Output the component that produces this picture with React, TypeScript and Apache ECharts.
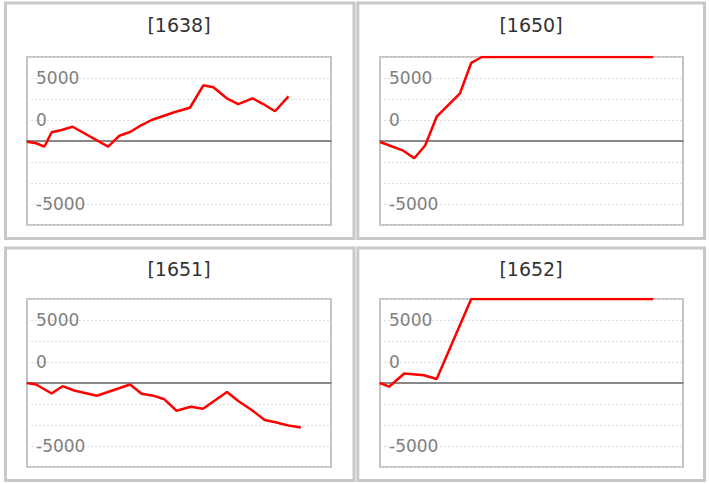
import React, { useEffect, useRef } from "react";
import * as echarts from "echarts";

const panelTitles = ["[1638]", "[1650]", "[1651]", "[1652]"];

const xs1638 = [0, 3.0, 5.7, 8.1, 11.4, 15.0, 26.7, 30.4, 33.9, 37.7, 41.0, 44.8, 48.7, 53.6, 58.0, 61.3, 65.7, 69.5, 74.2, 77.7, 81.6, 86.0];
const vals1638 = [-100, -270, -680, 1040, 1310, 1700, -680, 630, 1070, 1900, 2500, 2980, 3450, 3960, 6630, 6390, 5080, 4400, 5080, 4400, 3540, 5320];

const xs1650 = [0, 7.7, 11.3, 14.9, 18.7, 26.4, 30.1, 33.6, 90.2];
const vals1650 = [-120, -1150, -2060, -540, 2890, 5680, 9290, 10000, 10000];

const xs1651 = [0, 3.0, 8.1, 11.7, 15.5, 23.0, 33.9, 37.7, 41.5, 45.2, 49.2, 53.9, 57.9, 65.8, 69.5, 73.9, 78.2, 81.7, 86.0, 90.1];
const vals1651 = [0, -180, -1250, -380, -890, -1520, -180, -1270, -1510, -1940, -3300, -2820, -3060, -1070, -2140, -3210, -4400, -4670, -5060, -5300];

const xs1652 = [0, 3.0, 8.0, 14.5, 18.7, 30.1, 90.2];
const vals1652 = [0, -440, 1130, 930, 480, 10000, 10000];

const tickValues = [7500, 2500, -7500];
const tickLabels = ["5000", "0", "-5000"];

const FONT = "DejaVu Sans, Verdana, sans-serif";

export default function App() {
  const ref = useRef<HTMLDivElement>(null);
  useEffect(() => {
    if (!ref.current) return;
    const chart = echarts.init(ref.current, undefined, { renderer: "svg" });
    const seriesX = [xs1638, xs1650, xs1651, xs1652];
    const seriesV = [vals1638, vals1650, vals1651, vals1652];
    const grids = [
      { left: 27, top: 57, width: 304, height: 168 },
      { left: 380, top: 57, width: 303, height: 168 },
      { left: 27, top: 299, width: 304, height: 168 },
      { left: 380, top: 299, width: 303, height: 168 },
    ];
    const panels = [
      { x: 5.5, y: 3, width: 348.5, height: 235.5 },
      { x: 357.8, y: 3, width: 346.7, height: 235.5 },
      { x: 5.5, y: 248, width: 348.5, height: 232.5 },
      { x: 357.8, y: 248, width: 346.7, height: 232.5 },
    ];
    const titleCenters = [
      { x: 179, y: 15 },
      { x: 531, y: 15 },
      { x: 179, y: 259.5 },
      { x: 531, y: 259.5 },
    ];
    const option: any = {
      animation: false,
      backgroundColor: "#ffffff",
      title: panelTitles.map((t, i) => ({
        text: t,
        left: titleCenters[i].x,
        top: titleCenters[i].y,
        textAlign: "center",
        padding: 0,
        textStyle: { fontSize: 19, fontWeight: "normal", color: "#333333", fontFamily: FONT },
      })),
      graphic: panels.map((p) => ({
        type: "rect",
        silent: true,
        z: -10,
        shape: p,
        style: { fill: "none", stroke: "#c8c8c8", lineWidth: 3 },
      })),
      grid: grids.map((g) => ({ ...g, show: true, borderColor: "#c4c4c4", borderWidth: 2, backgroundColor: "transparent" })),
      xAxis: grids.map((_, i) => ({
        type: "value",
        gridIndex: i,
        min: 0,
        max: 100,
        axisLine: { show: true, onZero: true, lineStyle: { color: "#888888", width: 2 } },
        axisTick: { show: false },
        axisLabel: { show: false },
        splitLine: { show: false },
      })),
      yAxis: grids.map((_, i) => ({
        type: "value",
        gridIndex: i,
        min: -10000,
        max: 10000,
        interval: 2500,
        axisLine: { show: false },
        axisTick: { show: false },
        axisLabel: {
          inside: true,
          margin: 9,
          fontSize: 17,
          color: "#808080",
          fontFamily: FONT,
          formatter: (v: number) => {
            const k = tickValues.indexOf(v);
            return k >= 0 ? tickLabels[k] : "";
          },
        },
        splitLine: { show: true, lineStyle: { color: "#dddddd", width: 1, type: [2, 2] } },
      })),
      series: seriesX.map((xs, i) => ({
        type: "line",
        xAxisIndex: i,
        yAxisIndex: i,
        data: xs.map((x, j) => [x, seriesV[i][j]]),
        showSymbol: false,
        symbol: "none",
        clip: true,
        lineStyle: { color: "#ff0000", width: 2.5 },
      })),
    };
    chart.setOption(option);
    return () => chart.dispose();
  }, []);
  return (
    <div
      ref={ref}
      style={{ position: "fixed", left: 0, top: 0, width: 709, height: 484 }}
    />
  );
}
